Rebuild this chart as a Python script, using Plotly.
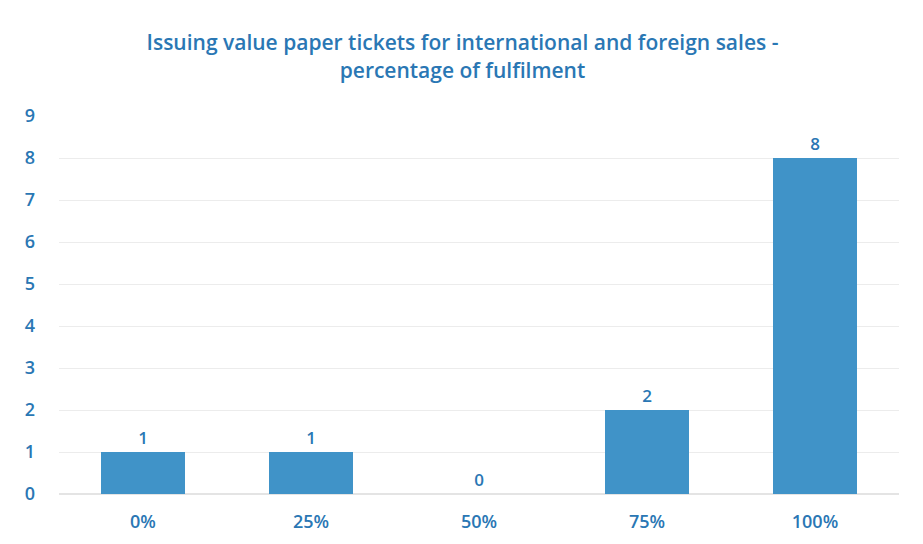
import plotly.graph_objects as go

categories = ['0%', '25%', '50%', '75%', '100%']
counts = [1, 1, 0, 2, 8]
y_ticks = list(range(0, 10))

blue_text = '#2a77b4'
bar_color = '#4093c8'

fig = go.Figure(go.Bar(
    x=categories,
    y=counts,
    width=0.5,
    marker=dict(color=bar_color, line=dict(width=0)),
    text=counts,
    textposition='outside',
    cliponaxis=False,
    textfont=dict(family='Open Sans', size=17, weight=600, color=blue_text),
))

fig.update_layout(
    width=923, height=544,
    plot_bgcolor='white', paper_bgcolor='white',
    margin=dict(l=51, r=32, t=108, b=58),
    title=dict(
        text='Issuing value paper tickets for international and foreign sales -<br>percentage of fulfilment',
        x=0.4924, xanchor='center', y=0.922, yanchor='top',
        font=dict(family='Open Sans', size=21, weight=600, color=blue_text),
    ),
    font=dict(family='Open Sans', color=blue_text),
    showlegend=False,
    bargap=0.5,
)
fig.update_xaxes(
    showgrid=False, showline=False, zeroline=False,
    tickfont=dict(family='Open Sans', size=18, weight=600, color=blue_text),
    ticklabelstandoff=15,
)
fig.update_yaxes(
    range=[0, 9], tickvals=y_ticks,
    showgrid=True, gridcolor='#ececec', gridwidth=1,
    zeroline=True, zerolinecolor='#e4e4e4',
    showline=False,
    tickfont=dict(family='Open Sans', size=18, weight=600, color=blue_text),
    ticklabelstandoff=23,
)

fig.write_html('out.html')
